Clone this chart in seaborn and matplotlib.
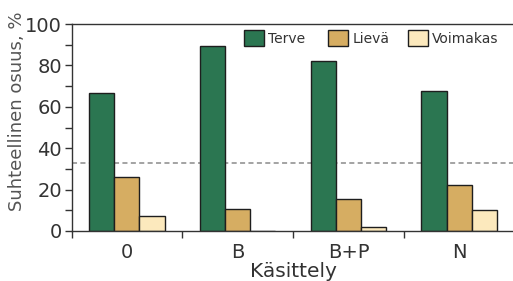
import matplotlib
matplotlib.use("Agg")
import matplotlib.pyplot as plt
import seaborn as sns
import pandas as pd
from matplotlib.ticker import MultipleLocator, FixedLocator, NullFormatter
from matplotlib.legend import Legend

categories = ["0", "B", "B+P", "N"]
series = ["Terve", "Lievä", "Voimakas"]
terve = [66.5, 89.4, 82.1, 67.6]
lieva = [26.2, 10.6, 15.5, 22.2]
voimakas = [7.2, 0.0, 2.0, 10.1]
reference_line = 33.0
colors = ["#2b7651", "#d6ad62", "#fce9bd"]

rows = []
for name, vals in zip(series, [terve, lieva, voimakas]):
    for c, v in zip(categories, vals):
        rows.append({"Käsittely": c, "Luokka": name, "Osuus": v})
df = pd.DataFrame(rows)

sns.set_style("ticks")
plt.rcParams["font.family"] = ["DejaVu Sans"]

fig = plt.figure(figsize=(5.13, 2.81), dpi=100)
ax = fig.add_axes([71.5 / 513, 1 - 231 / 281, 443 / 513, 207 / 281])

sns.barplot(data=df, x="Käsittely", y="Osuus", hue="Luokka", order=categories,
            hue_order=series, palette=colors, width=0.68, edgecolor="#1e1e1e",
            linewidth=1.0, saturation=1, ax=ax, legend=True)

ax.axhline(reference_line, color="#8a8a8a", linestyle=(0, (3.3, 2.2)), linewidth=1.1, zorder=0)

ax.set_xlim(-0.5, 3.5)
ax.set_ylim(0, 100)
ax.yaxis.set_major_locator(MultipleLocator(20))
ax.yaxis.set_minor_locator(MultipleLocator(10))
ax.tick_params(axis="y", which="both", direction="out", length=5, width=1,
               labelsize=14, pad=2, color="#333333", labelcolor="#333333")
ax.tick_params(axis="x", which="major", length=0, labelsize=14, pad=8.5, labelcolor="#333333")
ax.xaxis.set_minor_locator(FixedLocator([-0.5, 0.5, 1.5, 2.5, 3.5]))
ax.tick_params(axis="x", which="minor", direction="out", length=5, width=1, color="#333333")
ax.xaxis.set_minor_formatter(NullFormatter())

for s in ["left", "bottom", "top"]:
    ax.spines[s].set_visible(True)
    ax.spines[s].set_color("#333333")
    ax.spines[s].set_linewidth(1.0)
ax.spines["right"].set_visible(False)

ax.set_ylabel("Suhteellinen osuus, %", fontsize=13, color="#555555")
ax.yaxis.set_label_coords(-0.103, 0.58)
ax.set_xlabel("Käsittely", fontsize=14.5, color="#333333")
ax.xaxis.set_label_coords(0.5, -0.148)

handles, labels = ax.get_legend_handles_labels()
ax.get_legend().remove()
anchors_x = [0.389, 0.579, 0.760]
for h, l, xa in zip(handles, labels, anchors_x):
    lg = Legend(ax, [h], [l], loc="upper left", bbox_to_anchor=(xa, 0.971),
                bbox_transform=ax.transAxes, frameon=False, fontsize=10,
                handlelength=1.44, handleheight=1.44, handletextpad=0.3,
                borderpad=0, borderaxespad=0, labelcolor="#333333")
    ax.add_artist(lg)

fig.savefig("out.png", dpi=100)
